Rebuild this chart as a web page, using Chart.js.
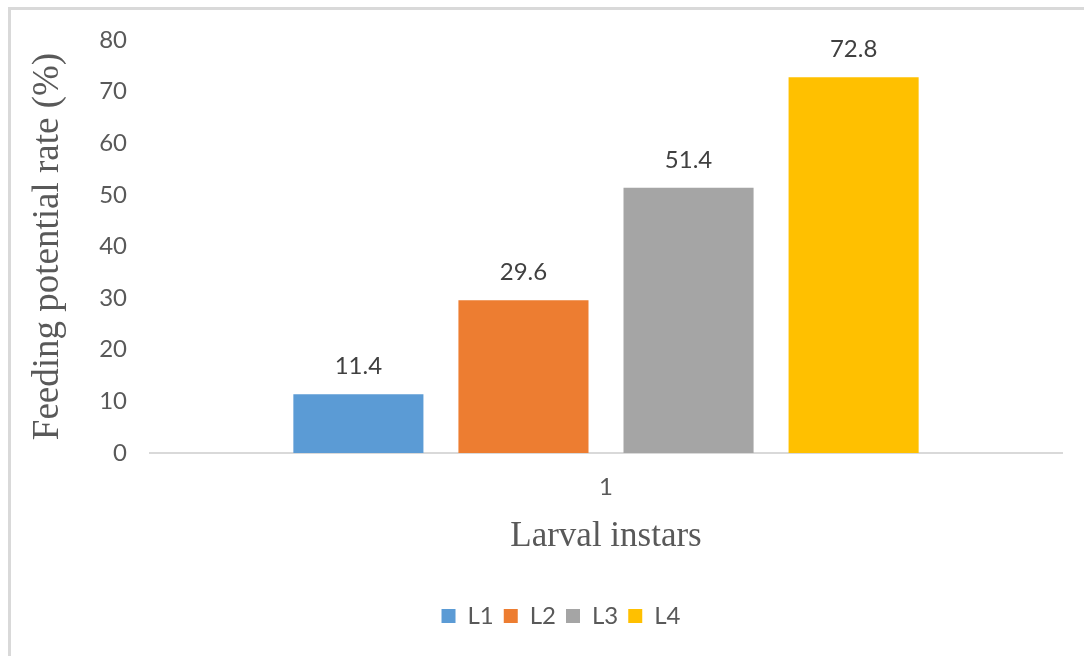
<!DOCTYPE html>
<html>
<head>
<meta charset="utf-8">
<script src="https://cdn.jsdelivr.net/npm/chart.js@4"></script>
<style>
  html, body { margin: 0; padding: 0; background: #fff; overflow: hidden; }
  #wrap { position: relative; width: 1084px; height: 656px; }
  #frame {
    position: absolute; left: 8px; top: 7px; width: 1200px; height: 800px;
    border-top: 3px solid #d9d9d9; border-left: 3px solid #d9d9d9;
    pointer-events: none;
  }
</style>
</head>
<body>
<div id="wrap">
  <canvas id="grafico" width="1084" height="656"></canvas>
  <div id="frame"></div>
</div>
<script>
// dados
const categorias = ['1'];
const series = ['L1', 'L2', 'L3', 'L4'];
const valores = [11.4, 29.6, 51.4, 72.8];
const cores = ['#5B9BD5', '#ED7D31', '#A5A5A5', '#FFC000'];
const ticksY = [0, 10, 20, 30, 40, 50, 60, 70, 80];

const cinza = '#595959';
const fonteSans = 'Lato';
const fonteSerif = 'Liberation Serif';

// margens do layout
const padEsq = 60;
const padDir = 22;
const larguraEixoY = 150 - padEsq;

// escreve os valores em cima das barras
const rotulosBarras = {
    id: 'rotulosBarras',
    afterDatasetsDraw(chart) {
        const ctx = chart.ctx;
        ctx.save();
        ctx.font = '24px ' + fonteSans;
        ctx.fillStyle = '#404040';
        ctx.textAlign = 'center';
        ctx.textBaseline = 'alphabetic';
        chart.data.datasets.forEach((ds, i) => {
            const meta = chart.getDatasetMeta(i);
            meta.data.forEach((bar, j) => {
                ctx.fillText(String(ds.data[j]), bar.x, bar.y - 20);
            });
        });
        ctx.restore();
    }
};

const ctx = document.getElementById('grafico').getContext('2d');
new Chart(ctx, {
    type: 'bar',
    data: {
        labels: categorias,
        datasets: series.map((nome, i) => ({
            label: nome,
            data: [valores[i]],
            backgroundColor: cores[i],
            borderWidth: 0
        }))
    },
    options: {
        responsive: false,
        animation: false,
        categoryPercentage: 0.724,
        barPercentage: 0.788,
        layout: { padding: { left: padEsq, right: padDir, top: 40, bottom: 18 } },
        scales: {
            x: {
                grid: { display: false, drawTicks: false },
                border: { display: true, color: '#d9d9d9', width: 2 },
                ticks: { color: cinza, font: { family: fonteSans, size: 24 }, padding: 20 },
                title: {
                    display: true,
                    text: 'Larval instars',
                    color: cinza,
                    font: { family: fonteSerif, size: 35 },
                    padding: { top: 0, bottom: 36 }
                },
                afterFit(scale) { scale.height = 141; }
            },
            y: {
                min: 0,
                max: 80,
                grid: { display: false, drawTicks: false },
                border: { display: false },
                afterBuildTicks(scale) { scale.ticks = ticksY.map(v => ({ value: v })); },
                ticks: { color: cinza, font: { family: fonteSans, size: 24 }, padding: 23 },
                title: {
                    display: true,
                    text: 'Feeding potential rate (%)',
                    color: cinza,
                    font: { family: fonteSerif, size: 37 },
                    padding: { top: 48 - padEsq - 22, bottom: 0 }
                },
                afterFit(scale) { scale.width = larguraEixoY; }
            }
        },
        plugins: {
            legend: {
                position: 'bottom',
                labels: {
                    color: cinza,
                    font: { family: fonteSans, size: 24 },
                    boxWidth: 14,
                    boxHeight: 14,
                    padding: 10
                }
            },
            tooltip: { enabled: false }
        }
    },
    plugins: [rotulosBarras]
});
</script>
</body>
</html>
